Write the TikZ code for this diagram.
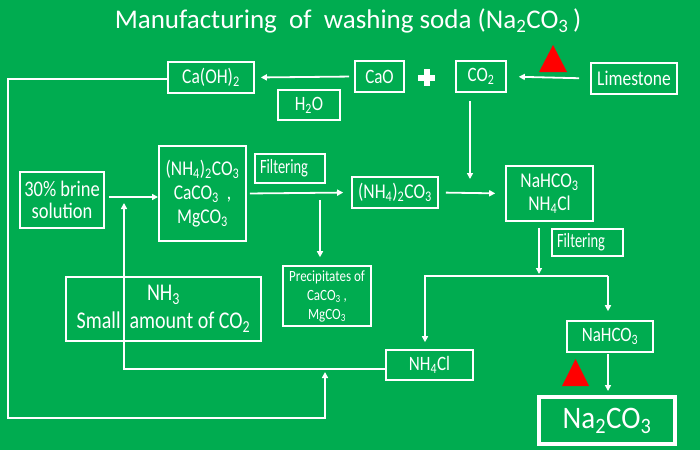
\documentclass[tikz,border=0pt]{standalone}
\usepackage{graphicx}
\usepackage{fontspec}
\setmainfont{Carlito}
\usetikzlibrary{arrows.meta}
\definecolor{sodagreen}{RGB}{0,172,80}
\newcommand{\sbs}[1]{\textsubscript{#1}}
\newcommand{\fsz}[2]{\fontsize{#1}{#2}\selectfont}
\newcommand{\up}[2][1.2]{\scalebox{1}[#1]{#2}}

\begin{document}
\begin{tikzpicture}[x=1pt, y=-1pt,
  box/.style={draw=white, line width=1.6pt, text=white, align=center, inner sep=0pt},
  flow/.style={draw=white, line width=1.8pt, -{Triangle[length=6pt, width=6pt]}},
  heat/.style={fill=red}]
  \fill[sodagreen] (0,0) rectangle (700,450);
  \useasboundingbox (0,0) rectangle (700,450);
  \node[text=white, font=\fsz{27}{30}] (title) at (348,21)
    {Manufacturing\ \ of\ \ washing soda (Na\sbs{2}CO\sbs{3}\,)};
  % ---------- lime kiln ----------
  \node[box, minimum width=86, minimum height=31, font=\fsz{17.5}{19}] (caoh) at (211,77.5) {\up{Ca(OH)\sbs{2}}};
  \node[box, minimum width=49, minimum height=31, font=\fsz{17}{19}] (cao) at (379.5,76.5) {\up{CaO}};
  \node[box, minimum width=50, minimum height=31, font=\fsz{17}{19}] (co2) at (481,76.5) {\up{CO\sbs{2}}};
  \node[box, minimum width=86, minimum height=31, font=\fsz{17.5}{19}] (lime) at (634,78.5) {\up{Limestone}};
  \node[box, minimum width=62, minimum height=30, font=\fsz{17}{19}] (h2o) at (309,105) {\up{H\sbs{2}O}};
  \fill[white] (418.2,74.7) rectangle (435.2,80.7);
  \fill[white] (423.7,69.2) rectangle (429.7,86.2);
  \fill[heat] (553,45) -- (567,72) -- (539,72) -- cycle;
  \draw[flow, shorten <=5pt, shorten >=6pt] (cao.west) -- (caoh.east);
  \draw[flow, shorten <=11pt, shorten >=12pt] (lime.west) -- (co2.east);
  % ---------- purification ----------
  \node[box, minimum width=84, minimum height=56, font=\fsz{18.5}{22}] (brine) at (62,200)
    {\up{30\% brine}\\\up{solution}};
  \node[box, minimum width=87, minimum height=95, font=\fsz{17.5}{24}] (mix) at (202.5,193.5)
    {\up{(NH\sbs{4})\sbs{2}CO\sbs{3}}\\\up{CaCO\sbs{3}\ \ ,}\\\up{MgCO\sbs{3}}};
  \node[box, text width=60, inner xsep=5, minimum height=29, align=left, font=\fsz{14.5}{16}] (filt1) at (290,168.5)
    {\up[1.4]{Filtering}};
  \node[box, minimum width=86, minimum height=31, font=\fsz{17.5}{19}] (amm) at (395,192.5)
    {\up{(NH\sbs{4})\sbs{2}CO\sbs{3}}};
  \node[box, minimum width=88, minimum height=60, font=\fsz{13}{19}] (prec) at (327,296)
    {\up{Precipitates of}\\\up{CaCO\sbs{3}\ ,}\\\up{MgCO\sbs{3}}};
  \node[box, minimum width=195, minimum height=64, font=\fsz{20}{28}] (nh3) at (163.5,309)
    {\up{NH\sbs{3}}\\\up{Small\ \ amount of CO\sbs{2}}};
  \coordinate (feed) at (158,197);
  \coordinate (drop) at (320,193);
  \draw[flow, shorten <=4pt] (brine.east |- feed) -- (feed);
  \draw[flow, shorten <=3pt, shorten >=8pt] (mix.east) -- (amm.west);
  \draw[flow, shorten <=7pt, shorten >=8pt] (drop) -- (drop |- prec.north);
  % ---------- carbonation ----------
  \node[box, minimum width=87, minimum height=55, font=\fsz{17.5}{23}] (sod) at (549.5,193.5)
    {\up{NaHCO\sbs{3}}\\\up{NH\sbs{4}Cl}};
  \node[box, text width=61, inner xsep=5, minimum height=27, align=left, font=\fsz{14.5}{16}] (filt2) at (587.5,242.5)
    {\up[1.4]{Filtering}};
  \coordinate (meet) at (470,179);
  \coordinate (split) at (539,274);
  \coordinate (forkL) at (425,276);
  \coordinate (forkR) at (608,276);
  \draw[flow, shorten <=8pt] (co2.south -| meet) -- (meet);
  \draw[flow, shorten <=7pt, shorten >=10pt] (amm.east) -- (sod.west);
  \draw[flow, shorten <=6pt] (sod.south -| split) -- (split);
  % ---------- products ----------
  \node[box, minimum width=87, minimum height=30, font=\fsz{17}{19}] (nh4cl) at (429.5,365) {\up{NH\sbs{4}Cl}};
  \node[box, minimum width=86, minimum height=31, font=\fsz{17}{19}] (bicarb) at (610,336.5) {\up{NaHCO\sbs{3}}};
  \node[box, line width=4pt, minimum width=136, minimum height=47, font=\fsz{29}{32}] (prod) at (607,420.5)
    {\up[1.08]{Na\sbs{2}CO\sbs{3}}};
  \fill[heat] (575.5,359) -- (589,386) -- (562,386) -- cycle;
  \draw[flow, shorten >=7pt] (forkR) -- (forkL) -- (forkL |- nh4cl.north);
  \draw[flow, shorten >=9pt] (forkR) -- (forkR |- bicarb.north);
  \draw[flow, shorten <=1pt, shorten >=4pt] (bicarb.south -| forkR) -- (prod.north -| forkR);
  % ---------- recycling ----------
  \coordinate (rise) at (124,197);
  \coordinate (loop) at (8,418);
  \coordinate (ret) at (325,369);
  \draw[flow, shorten >=6pt] ([yshift=-4pt]nh4cl.west) -| (rise);
  \draw[flow, shorten >=3pt] ([yshift=-1.5pt]caoh.west) -| (loop) -| (ret);
\end{tikzpicture}
\end{document}
